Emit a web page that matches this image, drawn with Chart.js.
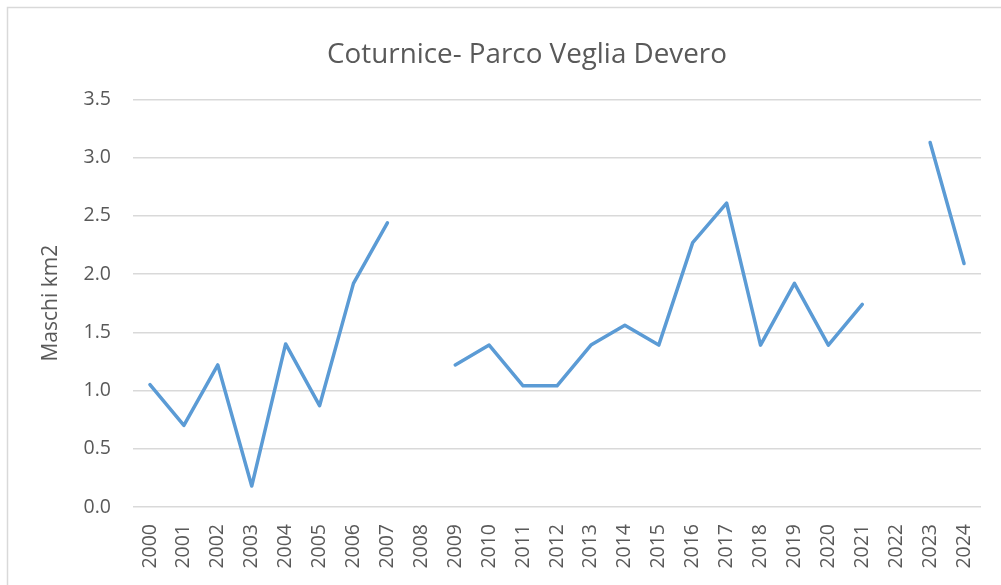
<!DOCTYPE html>
<html><head><meta charset="utf-8">
<script src="https://cdn.jsdelivr.net/npm/chart.js@4/dist/chart.umd.min.js"></script>
<style>html,body{margin:0;padding:0;background:#fff;overflow:hidden;}#wrap{width:1054px;height:585px;position:relative;}#c{width:1054px;height:585px;display:block;}</style>
</head><body><div id="wrap"><canvas id="c" width="1054" height="585"></canvas></div>
<script>
const categories = ["2000","2001","2002","2003","2004","2005","2006","2007","2008","2009","2010","2011","2012","2013","2014","2015","2016","2017","2018","2019","2020","2021","2022","2023","2024"];
const values = [1.05,0.70,1.22,0.18,1.40,0.87,1.92,2.44,null,1.22,1.39,1.04,1.04,1.39,1.56,1.39,2.27,2.61,1.39,1.92,1.39,1.74,null,3.13,2.09];
const yTicks = [0,0.5,1,1.5,2,2.5,3,3.5];
const titleText = "Coturnice- Parco Veglia Devero";
const yTitle = "Maschi km2";

const FONT = "'Open Sans', sans-serif";
const border = {id:'border', beforeDraw(ch){const c=ch.ctx;c.save();c.strokeStyle='#d9d9d9';c.lineWidth=1.5;c.strokeRect(7.5,7.5,1100,700);c.restore();}};
new Chart(document.getElementById('c'), {
  type:'line',
  data:{labels:categories, datasets:[{data:values, borderColor:'#5B9BD5', borderWidth:3.5, pointRadius:0, tension:0, spanGaps:false, borderCapStyle:'round', borderJoinStyle:'round'}]},
  options:{
    responsive:false, animation:false,
    layout:{padding:{left:20,right:20,top:0,bottom:0}},
    plugins:{legend:{display:false}, tooltip:{enabled:false},
      title:{display:true, text:titleText, color:'#595959', font:{family:FONT,size:27.8,weight:'normal'}, padding:{top:38,bottom:28}}},
    scales:{
      x:{offset:true, grid:{display:false, drawTicks:false}, border:{display:false},
        ticks:{color:'#595959', font:{family:FONT,size:19.5}, minRotation:90, maxRotation:90, padding:17, autoSkip:false},
        afterFit(s){s.height=78; s.paddingLeft=0; s.paddingRight=73;}},
      y:{min:0,max:3.5, afterBuildTicks(s){s.ticks=yTicks.map(v=>({value:v}));},
        grid:{color:'#d9d9d9', lineWidth:1.5, drawTicks:false}, border:{display:false},
        ticks:{color:'#595959', font:{family:FONT,size:19.5}, padding:22, callback:v=>v.toFixed(1)},
        title:{display:true, text:yTitle, color:'#595959', font:{family:FONT,size:21,weight:'normal'}, padding:{top:18,bottom:0}},
        afterFit(s){s.width=113;}}
    }
  },
  plugins:[border]
});
</script></body></html>
